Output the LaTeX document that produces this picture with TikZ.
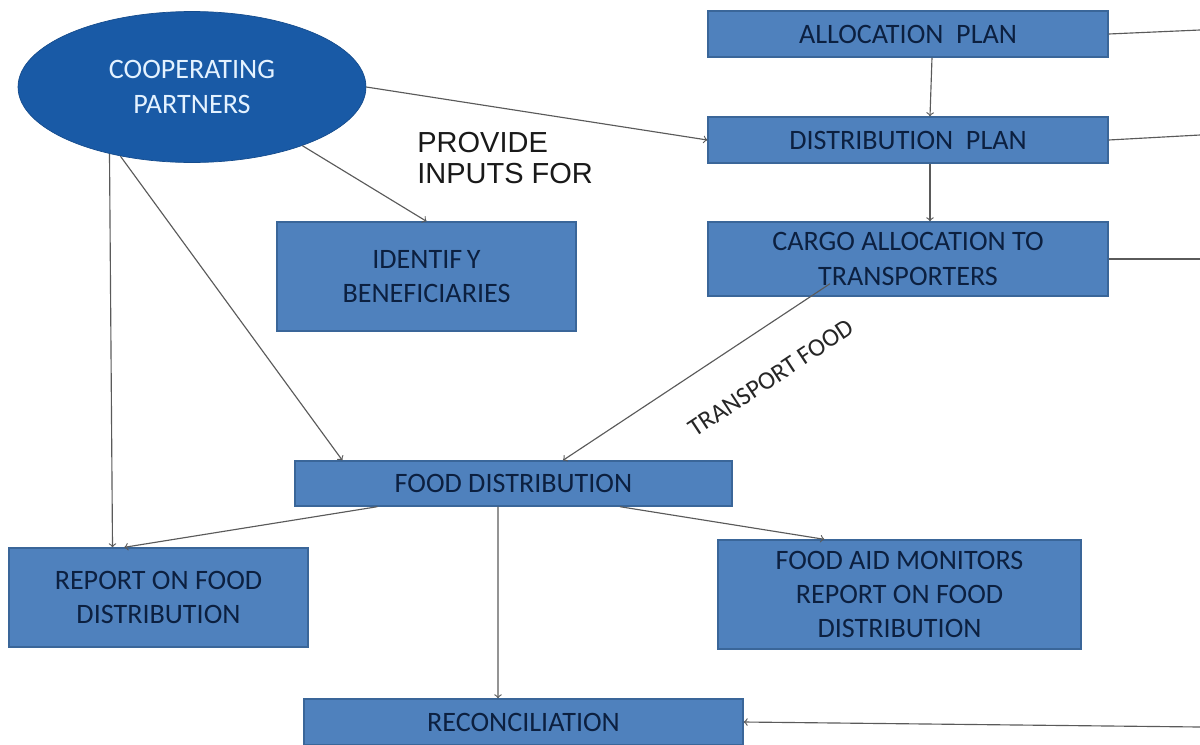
\documentclass[tikz,border=0pt]{standalone}
\usepackage{fontspec}
\setmainfont{Carlito}
\newfontfamily\arialfont{Liberation Sans}
\usetikzlibrary{arrows,shapes.geometric}
\definecolor{boxblue}{HTML}{4F81BD}
\definecolor{boxline}{HTML}{3A6699}
\definecolor{boxtext}{HTML}{0C2040}
\definecolor{partnerblue}{HTML}{195AA6}
\definecolor{partnertext}{HTML}{E4F2FF}
\definecolor{flowgray}{HTML}{5A5A5A}
\tikzset{font=\fontsize{16}{19.5}\selectfont}
\tikzset{box/.style={draw=boxline,line width=0.8pt,fill=boxblue,text=boxtext,align=center,inner sep=0pt}}
\tikzset{flow/.style={draw=flowgray,line width=0.65pt,->}}
\tikzset{feed/.style={draw=flowgray,line width=0.65pt}}

\begin{document}
\begin{tikzpicture}[x=0.02cm,y=-0.02cm]
\useasboundingbox (0,0) rectangle (1200,744);
% the partners and the planning column
\node[ellipse,fill=partnerblue,draw=partnerblue!85!black,text=partnertext,align=center,
      inner sep=0pt,minimum width=6.96cm,minimum height=3.02cm] (partners) at (192,87)
      {COOPERATING\\PARTNERS};
\node[box,minimum width=8cm,minimum height=0.92cm] (alloc) at (908,34) {ALLOCATION\ \ PLAN};
\node[box,minimum width=8cm,minimum height=0.92cm] (dist) at (908,140) {DISTRIBUTION\ \ PLAN};
\node[box,minimum width=8cm,minimum height=1.48cm] (cargo) at (908,259) {CARGO ALLOCATION TO\\TRANSPORTERS};
\node[box,minimum width=5.98cm,minimum height=2.18cm] (ident) at (426.5,276.5) {IDENTIF\,Y\\BENEFICIARIES};
% distribution and what follows it
\node[box,minimum width=8.74cm,minimum height=0.9cm] (food) at (513.5,483.5) {FOOD DISTRIBUTION};
\node[box,minimum width=5.98cm,minimum height=1.98cm] (report) at (158.5,597.5) {REPORT ON FOOD\\DISTRIBUTION};
\node[box,minimum width=7.26cm,minimum height=2.18cm] (monitors) at (899.5,594.5) {FOOD AID MONITORS\\REPORT ON FOOD\\DISTRIBUTION};
\node[box,minimum width=8.78cm,minimum height=0.92cm] (recon) at (523.5,722) {RECONCILIATION};
% labels
\node[anchor=north west,align=left,inner sep=0pt,text=black!90,
      font=\arialfont\fontsize{16.5}{17.5}\selectfont] (inputs) at (417,132) {PROVIDE\\INPUTS FOR};
\node[rotate=33.5,text=black!85,font=\fontsize{14.5}{16}\selectfont] (transport) at (771,378) {TRANSPORT FOOD};
% loose ends leaving to the right
\coordinate (allocout) at (1200,30);
\coordinate (distout) at (1200,135);
\coordinate (cargoout) at (1200,259);
\coordinate (reconin) at (1200,727);
% connectors
\draw[flow] (partners.east) -- (dist.west);
\draw[flow] (partners.-28) -- (ident.north);
\draw[flow] (partners.-136) -- ([xshift=0.96cm]food.north west);
\draw[flow] (partners.-141) -- ([xshift=-0.92cm]report.north);
\draw[flow] ([xshift=0.48cm]alloc.south) -- ([xshift=0.44cm]dist.north);
\draw[flow] ([xshift=0.44cm]dist.south) -- ([xshift=0.44cm]cargo.north);
\draw[flow] ([xshift=-1.56cm,yshift=0.26cm]cargo.south) -- ([xshift=0.99cm]food.north);
\draw[flow] ([xshift=1.66cm]food.south west) -- ([xshift=2.32cm]report.north west);
\draw[flow] ([xshift=2.13cm]food.south) -- ([xshift=2.14cm]monitors.north west);
\draw[flow] ([xshift=-0.31cm]food.south) -- ([xshift=-0.51cm]recon.north);
\draw[feed] (alloc.east) -- (allocout);
\draw[feed] (dist.east) -- (distout);
\draw[feed] (cargo.east) -- (cargoout);
\draw[flow] (reconin) -- (recon.east);
\end{tikzpicture}
\end{document}
